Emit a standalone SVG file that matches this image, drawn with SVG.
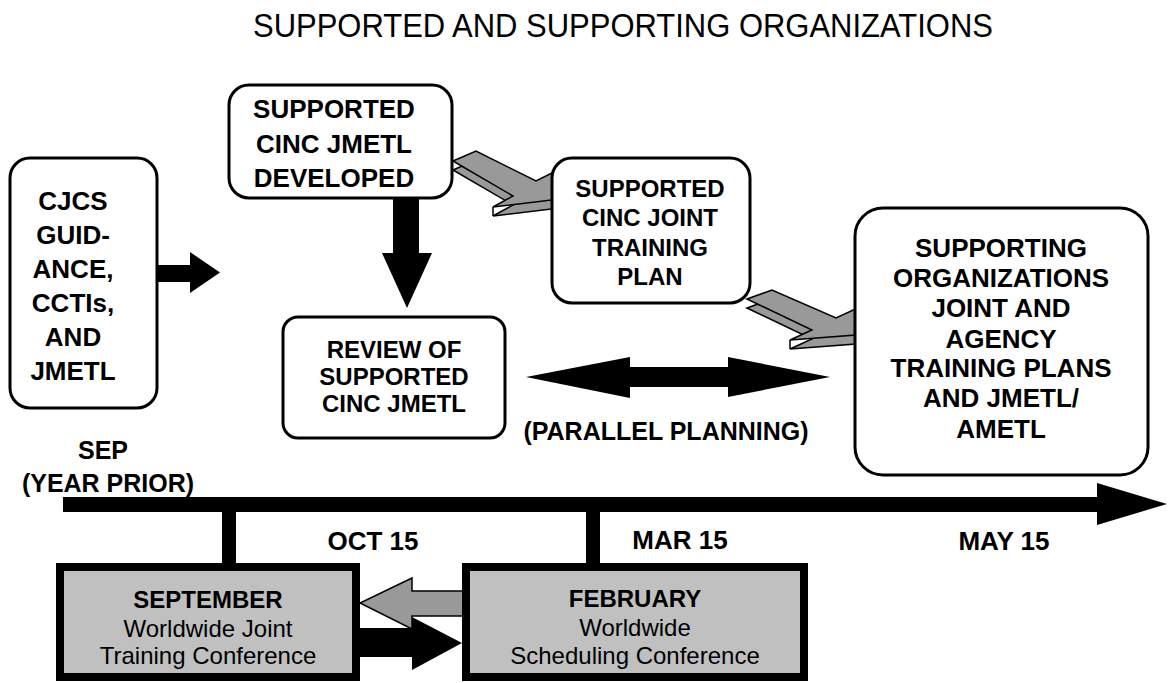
<svg xmlns="http://www.w3.org/2000/svg" width="1171" height="683" viewBox="0 0 1171 683">
<style>
.t{font-family:"Liberation Sans",Arial,sans-serif;fill:#000}
.b{font-weight:bold}
.box{fill:#fff;stroke:#000;stroke-width:3}
.cbox{fill:#c0c0c0;stroke:#000;stroke-width:8}
.g{fill:#999;stroke:#000;stroke-width:1.5;stroke-linejoin:miter}
.k{fill:#000}
</style>
<rect width="1171" height="683" fill="#fff"/>
<text class="t" x="253" y="37" font-size="34" textLength="740" lengthAdjust="spacingAndGlyphs">SUPPORTED AND SUPPORTING ORGANIZATIONS</text>

<g id="connectors">
  <g id="arrow-gray-1">
    <polygon class="g" points="453,170 476,160 536,190 562,177 585,205 493,216 513,205"/>
    <polygon class="g" points="453,161 476,151 536,181 562,168 585,196 493,207 513,196"/>
    <line x1="493" y1="207" x2="493" y2="216" stroke="#000" stroke-width="1.5"/>
  </g>
  <g id="arrow-gray-2">
    <polygon class="g" points="747,308 772,299 836,327 862,315 882,342 790,349 812,339"/>
    <polygon class="g" points="747,299 772,290 836,318 862,306 882,333 790,340 812,330"/>
    <line x1="790" y1="340" x2="790" y2="349" stroke="#000" stroke-width="1.5"/>
  </g>
  <polygon class="k" points="157,265 190,265 190,252 220,272.5 190,293 190,282 157,282"/>
  <polygon class="k" points="393,198 419,198 419,253 432,253 407,308 382,253 393,253"/>
  <polygon class="k" points="526,377 630,357 630,367 728,367 728,357 830,377 728,397 728,387 630,387 630,398"/>
  <polygon class="k" points="63,497 1097,497 1097,483 1167,504 1097,525 1097,512 63,512"/>
  <rect class="k" x="222" y="510" width="14" height="56"/>
  <rect class="k" x="586" y="510" width="14" height="56"/>
  <polygon class="k" points="358,628 412,628 412,617 462,643 412,670 412,657 358,657"/>
  <polygon class="g" points="464,591 412,591 412,578 360,603 412,629 412,616 464,616"/>
</g>

<g id="node-cjcs">
  <rect class="box" x="10" y="158" width="147" height="250" rx="20"/>
  <g class="t b" font-size="26" text-anchor="middle">
    <text x="73" y="210">CJCS</text>
    <text x="73" y="244">GUID-</text>
    <text x="73" y="278">ANCE,</text>
    <text x="73" y="312">CCTIs,</text>
    <text x="73" y="346">AND</text>
    <text x="73" y="380">JMETL</text>
  </g>
</g>

<g id="node-jmetl-developed">
  <rect class="box" x="229" y="85" width="223" height="113" rx="20"/>
  <g class="t b" font-size="26" text-anchor="middle">
    <text x="334" y="118">SUPPORTED</text>
    <text x="334" y="153">CINC JMETL</text>
    <text x="334" y="187">DEVELOPED</text>
  </g>
</g>

<g id="node-joint-training-plan">
  <rect class="box" x="552" y="158" width="198" height="145" rx="20"/>
  <g class="t b" font-size="24" text-anchor="middle">
    <text x="650" y="197">SUPPORTED</text>
    <text x="650" y="226">CINC JOINT</text>
    <text x="650" y="256">TRAINING</text>
    <text x="650" y="285">PLAN</text>
  </g>
</g>

<g id="node-review">
  <rect class="box" x="283" y="317" width="222" height="121" rx="15"/>
  <g class="t b" font-size="24" text-anchor="middle">
    <text x="394" y="358">REVIEW OF</text>
    <text x="394" y="385">SUPPORTED</text>
    <text x="394" y="412">CINC JMETL</text>
  </g>
</g>

<g id="node-supporting-orgs">
  <rect class="box" x="855" y="208" width="293" height="267" rx="28"/>
  <g class="t b" font-size="26" text-anchor="middle">
    <text x="1001" y="257">SUPPORTING</text>
    <text x="1001" y="287">ORGANIZATIONS</text>
    <text x="1001" y="317">JOINT AND</text>
    <text x="1001" y="348">AGENCY</text>
    <text x="1001" y="377">TRAINING PLANS</text>
    <text x="1001" y="407">AND JMETL/</text>
    <text x="1001" y="438">AMETL</text>
  </g>
</g>

<g id="labels" class="t b" text-anchor="middle">
  <text x="666" y="440" font-size="25">(PARALLEL PLANNING)</text>
  <text x="103" y="459" font-size="25">SEP</text>
  <text x="108" y="492" font-size="25">(YEAR PRIOR)</text>
  <text x="373" y="550" font-size="26">OCT 15</text>
  <text x="680" y="549" font-size="26">MAR 15</text>
  <text x="1004" y="550" font-size="26">MAY 15</text>
</g>

<g id="node-september">
  <rect class="cbox" x="60" y="567" width="296" height="110"/>
  <text class="t b" x="208" y="608" font-size="24" text-anchor="middle">SEPTEMBER</text>
  <text class="t" x="208" y="637" font-size="24" text-anchor="middle">Worldwide Joint</text>
  <text class="t" x="208" y="664" font-size="24" text-anchor="middle">Training Conference</text>
</g>

<g id="node-february">
  <rect class="cbox" x="466" y="567" width="338" height="110"/>
  <text class="t b" x="635" y="607" font-size="24" text-anchor="middle">FEBRUARY</text>
  <text class="t" x="635" y="636" font-size="24" text-anchor="middle">Worldwide</text>
  <text class="t" x="635" y="664" font-size="24" text-anchor="middle">Scheduling Conference</text>
</g>
</svg>
